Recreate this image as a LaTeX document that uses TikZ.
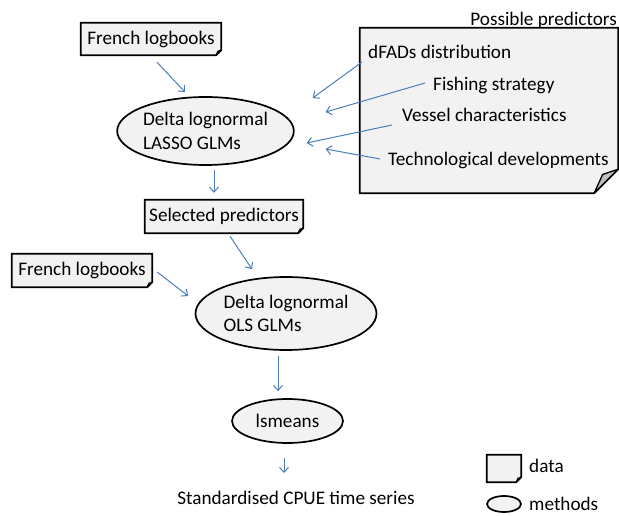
\documentclass[tikz,border=0pt]{standalone}
\usepackage{fontspec}
\setmainfont{Carlito}
\usetikzlibrary{shapes.geometric,arrows.meta,backgrounds}
\definecolor{boxgray}{HTML}{F2F2F2}
\definecolor{flapgray}{HTML}{BFBFBF}
\definecolor{arrowblue}{HTML}{4A7EBB}
\tikzset{
  txt/.style={font=\fontsize{19.2}{23.5}\selectfont, inner sep=0pt},
  databox/.style={txt, minimum width=#1, minimum height=33pt},
  method/.style={txt, ellipse, draw=black, line width=1.7pt, fill=boxgray, align=left},
  boxline/.style={draw=black, line width=1.7pt, fill=boxgray, line join=miter},
  flapline/.style={draw=black, line width=1.3pt, fill=flapgray, line join=round},
  conn/.style={draw=arrowblue, line width=1pt, -{Straight Barb[length=5pt,width=9pt]}}
}
\newcommand\foldshape[2]{%
  \filldraw[boxline] (#1.north west) -- (#1.north east) -- ([yshift=#2]#1.south east)
    -- ([xshift=-#2]#1.south east) -- (#1.south west) -- cycle;
  \filldraw[flapline] ([yshift=#2]#1.south east) -- ([xshift=-#2]#1.south east)
    -- ([xshift=-0.65*#2,yshift=0.78*#2]#1.south east) -- cycle;}
\begin{document}
\begin{tikzpicture}[x=1pt,y=-1pt]
\useasboundingbox (0,0) rectangle (619,516);
% data boxes
\node[databox=140pt, minimum height=32pt] (fl1) at (151,39) {French logbooks};
\node[databox=158pt] (sel) at (224,216.5) {Selected predictors};
\node[databox=140pt] (fl2) at (82,270.5) {French logbooks};
\node[txt, minimum width=258pt, minimum height=165pt] (note) at (489,110.5) {};
\node[txt, minimum width=34pt, minimum height=27pt] (ldata) at (504,468.5) {};
% note texts
\node[txt, anchor=east] (pp) at (617,20) {Possible predictors};
\node[txt, anchor=west] (dfad) at (368,52) {dFADs distribution};
\node[txt, anchor=west] (fish) at (433,85) {Fishing strategy};
\node[txt, anchor=west] (vessel) at (402,115) {Vessel characteristics};
\node[txt, anchor=west] (tech) at (388,160) {Technological developments};
% methods
\node[method, minimum width=175pt, minimum height=68pt] (e1) at (205.5,131) {Delta lognormal\\LASSO GLMs};
\node[method, minimum width=181pt, minimum height=73pt] (e2) at (286,313.5) {Delta lognormal\\OLS GLMs};
\node[method, minimum width=111pt, minimum height=44pt] (ls) at (287.5,421) {lsmeans};
\node[txt] (out) at (296,498) {Standardised CPUE time series};
% legend
\node[method, minimum width=34pt, minimum height=16pt] (lmeth) at (504,504) {};
\node[txt, anchor=west] (ldatat) at (529,466) {data};
\node[txt, anchor=west] (lmetht) at (529,504) {methods};
% shapes behind
\begin{scope}[on background layer]
  \foldshape{fl1}{5pt}
  \foldshape{sel}{5pt}
  \foldshape{fl2}{5pt}
  \foldshape{note}{24pt}
  \foldshape{ldata}{5pt}
\end{scope}
% connectors
\draw[conn] ([xshift=6pt,yshift=-7pt]fl1.south) -- ([xshift=-20.5pt,yshift=4pt]e1.north);
\draw[conn] ([xshift=-6pt,yshift=-10pt]dfad.west) -- ([xshift=18pt,yshift=33pt]e1.east);
\draw[conn] ([xshift=-8pt,yshift=2pt]fish.west) -- ([xshift=31pt,yshift=19pt]e1.east);
\draw[conn] ([xshift=-10pt,yshift=-10pt]vessel.west) -- ([xshift=12pt,yshift=-12pt]e1.east);
\draw[conn] ([xshift=-8pt,yshift=1pt]tech.west) -- ([xshift=31pt,yshift=-18pt]e1.east);
\draw[conn] ([xshift=8.5pt,yshift=-4pt]e1.south) -- ([xshift=-10pt,yshift=7pt]sel.north);
\draw[conn] ([xshift=6pt,yshift=-3pt]sel.south) -- ([xshift=-34pt,yshift=7pt]e2.north);
\draw[conn] ([xshift=5pt,yshift=-1.5pt]fl2.east) -- ([xshift=-6.5pt,yshift=17.5pt]e2.west);
\draw[conn] ([xshift=-8pt,yshift=-5pt]e2.south) -- ([xshift=-9.5pt,yshift=7pt]ls.north);
\draw[conn] ([xshift=-3.5pt,yshift=-14pt]ls.south) -- ([xshift=-12pt,yshift=25pt]out.center);
\end{tikzpicture}
\end{document}
